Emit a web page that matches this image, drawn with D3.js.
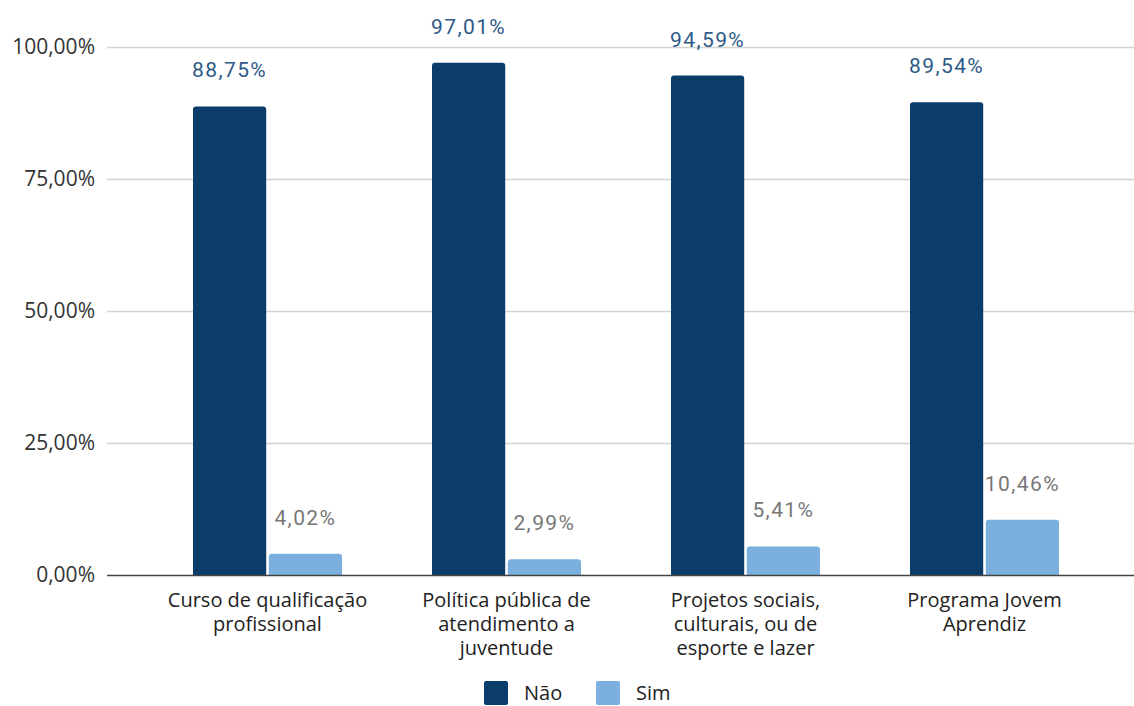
<!DOCTYPE html>
<html>
<head>
<meta charset="utf-8">
<script src="https://cdn.jsdelivr.net/npm/d3@7"></script>
<style>
  body { margin: 0; background: #fff; }
</style>
</head>
<body>
<div id="chart"></div>
<script>
// dados
let categorias = [
  ["Curso de qualificação", "profissional"],
  ["Política pública de", "atendimento a", "juventude"],
  ["Projetos sociais,", "culturais, ou de", "esporte e lazer"],
  ["Programa Jovem", "Aprendiz"]
]
let nao = [88.75, 97.01, 94.59, 89.54]
let sim = [4.02, 2.99, 5.41, 10.46]
let series = ["Não", "Sim"]
let ticks = [0, 25, 50, 75, 100]

let cores = ["#0b3d6b", "#7aafde"]
let coresRotulo = ["#2e5a88", "#777777"]

let W = 1134, H = 706
let svg = d3.select("#chart")
  .append("svg")
  .attr("width", W)
  .attr("height", H)

let yScale = d3.scaleLinear()
  .domain([0, 100])
  .range([575, 47])
let xScale = d3.scaleBand()
  .domain(d3.range(categorias.length))
  .range([148, 1104])
let xInner = d3.scaleBand()
  .domain(d3.range(series.length))
  .range([0, 149])
  .paddingInner(0.034)

let fmt = v => v.toFixed(2).replace(".", ",") + "%"

// grade
svg.append("g")
  .selectAll("line")
  .data(ticks.filter(t => t > 0))
  .enter()
  .append("line")
  .attr("x1", 107).attr("x2", W)
  .attr("y1", d => yScale(d) + 0.5).attr("y2", d => yScale(d) + 0.5)
  .style("stroke", "#d3d3d3")
  .style("stroke-width", 1.5)

svg.append("g")
  .selectAll("text")
  .data(ticks)
  .enter()
  .append("text")
  .attr("x", 95)
  .attr("y", d => yScale(d))
  .attr("dy", "0.35em")
  .attr("text-anchor", "end")
  .style("font-family", "'Open Sans', sans-serif")
  .style("font-size", "21px")
  .style("fill", "#333")
  .text(d => d.toFixed(2).replace(".", ",") + "%")

// barras
let dados = []
categorias.forEach((c, i) => {
  dados.push({ cat: i, s: 0, v: nao[i] })
  dados.push({ cat: i, s: 1, v: sim[i] })
})

let r = 3
function barPath(d) {
  let x0 = xScale(d.cat) + (xScale.bandwidth() - 149) / 2 + xInner(d.s)
  let w = xInner.bandwidth()
  let y0 = yScale(d.v), y1 = yScale(0)
  return `M${x0},${y1}V${y0 + r}Q${x0},${y0} ${x0 + r},${y0}H${x0 + w - r}Q${x0 + w},${y0} ${x0 + w},${y0 + r}V${y1}Z`
}

svg.append("g")
  .selectAll("path")
  .data(dados)
  .enter()
  .append("path")
  .attr("d", barPath)
  .style("fill", d => cores[d.s])

svg.append("g")
  .selectAll("text")
  .data(dados)
  .enter()
  .append("text")
  .attr("x", d => xScale(d.cat) + (xScale.bandwidth() - 149) / 2 + xInner(d.s) + xInner.bandwidth() / 2)
  .attr("y", d => yScale(d.v) - 29)
  .attr("text-anchor", "middle")
  .style("font-family", "Roboto, sans-serif")
  .style("font-size", "21px")
  .style("letter-spacing", "1.4px")
  .style("fill", d => coresRotulo[d.s])
  .text(d => fmt(d.v))

// eixo base
svg.append("line")
  .attr("x1", 107).attr("x2", W)
  .attr("y1", yScale(0) + 0.5).attr("y2", yScale(0) + 0.5)
  .style("stroke", "#444")
  .style("stroke-width", 1.5)

// rotulos categorias (uma linha = um text)
let catG = svg.append("g")
  .selectAll("g")
  .data(categorias)
  .enter()
  .append("g")
  .attr("transform", (d, i) => `translate(${xScale(i) + xScale.bandwidth() / 2},607)`)
catG.selectAll("text")
  .data(d => d)
  .enter()
  .append("text")
  .attr("y", (d, i) => i * 24)
  .attr("text-anchor", "middle")
  .style("font-family", "'Open Sans', sans-serif")
  .style("font-size", "20px")
  .style("fill", "#222")
  .text(d => d)

// legenda
let leg = svg.append("g")
  .selectAll("g")
  .data(series)
  .enter()
  .append("g")
  .attr("transform", (d, i) => `translate(${484 + i * 112},681)`)
leg.append("rect")
  .attr("width", 24).attr("height", 24)
  .attr("rx", 2)
  .style("fill", (d, i) => cores[i])
leg.append("text")
  .attr("x", 40)
  .attr("y", 19)
  .style("font-family", "'Open Sans', sans-serif")
  .style("font-size", "20px")
  .style("fill", "#222")
  .text(d => d)
</script>
</body>
</html>
